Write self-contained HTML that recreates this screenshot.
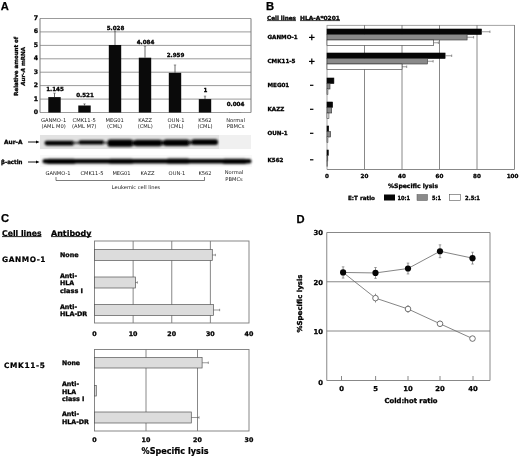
<!DOCTYPE html>
<html><head><meta charset="utf-8"><title>Figure</title>
<style>
html,body{margin:0;padding:0;background:#fff;}
body{width:520px;height:457px;overflow:hidden;}
svg{display:block;font-family:"DejaVu Sans","Liberation Sans",sans-serif;}
</style></head><body>
<svg width="520" height="457" viewBox="0 0 520 457">
<rect width="520" height="457" fill="#fff"/>
<text x="0.8" y="9.7" font-size="11.2" font-weight="bold" text-anchor="start" fill="#000" style='font-family:"Liberation Sans", sans-serif' stroke="#000" stroke-width="0.25">A</text>
<line x1="40" y1="112.5" x2="251" y2="112.5" stroke="#7a7a7a" stroke-width="0.75" />
<text x="36" y="114.0" font-size="6.2" font-weight="bold" text-anchor="middle" fill="#000" stroke="#000" stroke-width="0.3" >0</text>
<line x1="40" y1="99.1" x2="251" y2="99.1" stroke="#7a7a7a" stroke-width="0.75" />
<text x="36" y="100.6" font-size="6.2" font-weight="bold" text-anchor="middle" fill="#000" stroke="#000" stroke-width="0.3" >1</text>
<line x1="40" y1="85.6" x2="251" y2="85.6" stroke="#7a7a7a" stroke-width="0.75" />
<text x="36" y="87.1" font-size="6.2" font-weight="bold" text-anchor="middle" fill="#000" stroke="#000" stroke-width="0.3" >2</text>
<line x1="40" y1="72.2" x2="251" y2="72.2" stroke="#7a7a7a" stroke-width="0.75" />
<text x="36" y="73.7" font-size="6.2" font-weight="bold" text-anchor="middle" fill="#000" stroke="#000" stroke-width="0.3" >3</text>
<line x1="40" y1="58.8" x2="251" y2="58.8" stroke="#7a7a7a" stroke-width="0.75" />
<text x="36" y="60.3" font-size="6.2" font-weight="bold" text-anchor="middle" fill="#000" stroke="#000" stroke-width="0.3" >4</text>
<line x1="40" y1="45.4" x2="251" y2="45.4" stroke="#7a7a7a" stroke-width="0.75" />
<text x="36" y="46.9" font-size="6.2" font-weight="bold" text-anchor="middle" fill="#000" stroke="#000" stroke-width="0.3" >5</text>
<line x1="40" y1="31.9" x2="251" y2="31.9" stroke="#7a7a7a" stroke-width="0.75" />
<text x="36" y="33.4" font-size="6.2" font-weight="bold" text-anchor="middle" fill="#000" stroke="#000" stroke-width="0.3" >6</text>
<line x1="40" y1="18.5" x2="251" y2="18.5" stroke="#7a7a7a" stroke-width="0.75" />
<text x="36" y="20.0" font-size="6.2" font-weight="bold" text-anchor="middle" fill="#000" stroke="#000" stroke-width="0.3" >7</text>
<line x1="40" y1="18.5" x2="40" y2="112.5" stroke="#7a7a7a" stroke-width="1" />
<line x1="251" y1="18.5" x2="251" y2="112.5" stroke="#7a7a7a" stroke-width="1" />
<line x1="54.5" y1="97.12428571428572" x2="54.5" y2="93.0957142857143" stroke="#444" stroke-width="0.8" />
<line x1="53.3" y1="93.0957142857143" x2="55.7" y2="93.0957142857143" stroke="#555" stroke-width="0.6" />
<rect x="48.3" y="97.1" width="12.4" height="15.4" fill="#0a0a0a" stroke="none" stroke-width="1" />
<text x="55.0" y="90.6" font-size="5.6" font-weight="bold" text-anchor="middle" fill="#000" stroke="#000" stroke-width="0.3" >1.145</text>
<line x1="84.5" y1="105.50371428571428" x2="84.5" y2="103.8922857142857" stroke="#444" stroke-width="0.8" />
<line x1="83.3" y1="103.8922857142857" x2="85.7" y2="103.8922857142857" stroke="#555" stroke-width="0.6" />
<rect x="78.3" y="105.5" width="12.4" height="7.0" fill="#0a0a0a" stroke="none" stroke-width="1" />
<text x="85.0" y="97.4" font-size="5.6" font-weight="bold" text-anchor="middle" fill="#000" stroke="#000" stroke-width="0.3" >0.521</text>
<line x1="115" y1="44.981142857142856" x2="115" y2="30.881142857142855" stroke="#444" stroke-width="0.8" />
<line x1="113.8" y1="30.881142857142855" x2="116.2" y2="30.881142857142855" stroke="#555" stroke-width="0.6" />
<rect x="108.8" y="45.0" width="12.4" height="67.5" fill="#0a0a0a" stroke="none" stroke-width="1" />
<text x="115.5" y="29.6" font-size="5.6" font-weight="bold" text-anchor="middle" fill="#000" stroke="#000" stroke-width="0.3" >5.028</text>
<line x1="145" y1="57.65771428571429" x2="145" y2="46.24342857142858" stroke="#444" stroke-width="0.8" />
<line x1="143.8" y1="46.24342857142858" x2="146.2" y2="46.24342857142858" stroke="#555" stroke-width="0.6" />
<rect x="138.8" y="57.7" width="12.4" height="54.8" fill="#0a0a0a" stroke="none" stroke-width="1" />
<text x="145.5" y="44.1" font-size="5.6" font-weight="bold" text-anchor="middle" fill="#000" stroke="#000" stroke-width="0.3" >4.084</text>
<line x1="175" y1="72.76485714285714" x2="175" y2="64.97628571428571" stroke="#444" stroke-width="0.8" />
<line x1="173.8" y1="64.97628571428571" x2="176.2" y2="64.97628571428571" stroke="#555" stroke-width="0.6" />
<rect x="168.8" y="72.8" width="12.4" height="39.7" fill="#0a0a0a" stroke="none" stroke-width="1" />
<text x="175.5" y="56.6" font-size="5.6" font-weight="bold" text-anchor="middle" fill="#000" stroke="#000" stroke-width="0.3" >2.959</text>
<line x1="205" y1="99.07142857142857" x2="205" y2="96.11714285714285" stroke="#444" stroke-width="0.8" />
<line x1="203.8" y1="96.11714285714285" x2="206.2" y2="96.11714285714285" stroke="#555" stroke-width="0.6" />
<rect x="198.8" y="99.1" width="12.4" height="13.4" fill="#0a0a0a" stroke="none" stroke-width="1" />
<text x="205.5" y="92.1" font-size="5.6" font-weight="bold" text-anchor="middle" fill="#000" stroke="#000" stroke-width="0.3" >1</text>
<rect x="228.8" y="112.4" width="12.4" height="0.1" fill="#0a0a0a" stroke="none" stroke-width="1" />
<text x="235.5" y="106.1" font-size="5.6" font-weight="bold" text-anchor="middle" fill="#000" stroke="#000" stroke-width="0.3" >0.004</text>
<g transform="translate(18.1,66.3) rotate(-90)">
<text x="0" y="0" font-size="5.6" font-weight="bold" text-anchor="middle" fill="#000" stroke="#000" stroke-width="0.3" textLength="59" lengthAdjust="spacingAndGlyphs" >Relative amount of</text>
<text x="0" y="7.0" font-size="5.6" font-weight="bold" stroke="#000" stroke-width="0.22" text-anchor="middle"><tspan font-style="italic">Aur-A</tspan> mRNA</text>
</g>
<text x="53.6" y="121.7" font-size="5.2" font-weight="normal" text-anchor="middle" fill="#1a1a1a" >GANMO-1</text>
<text x="53.6" y="127.6" font-size="5.2" font-weight="normal" text-anchor="middle" fill="#1a1a1a" >(AML M0)</text>
<text x="84.2" y="121.7" font-size="5.2" font-weight="normal" text-anchor="middle" fill="#1a1a1a" >CMK11-5</text>
<text x="84.2" y="127.6" font-size="5.2" font-weight="normal" text-anchor="middle" fill="#1a1a1a" >(AML M7)</text>
<text x="114.6" y="121.7" font-size="5.2" font-weight="normal" text-anchor="middle" fill="#1a1a1a" >MEG01</text>
<text x="114.6" y="127.6" font-size="5.2" font-weight="normal" text-anchor="middle" fill="#1a1a1a" >(CML)</text>
<text x="145.2" y="121.7" font-size="5.2" font-weight="normal" text-anchor="middle" fill="#1a1a1a" >KAZZ</text>
<text x="145.2" y="127.6" font-size="5.2" font-weight="normal" text-anchor="middle" fill="#1a1a1a" >(CML)</text>
<text x="176" y="121.7" font-size="5.2" font-weight="normal" text-anchor="middle" fill="#1a1a1a" >OUN-1</text>
<text x="176" y="127.6" font-size="5.2" font-weight="normal" text-anchor="middle" fill="#1a1a1a" >(CML)</text>
<text x="205" y="121.7" font-size="5.2" font-weight="normal" text-anchor="middle" fill="#1a1a1a" >K562</text>
<text x="205" y="127.6" font-size="5.2" font-weight="normal" text-anchor="middle" fill="#1a1a1a" >(CML)</text>
<text x="235.6" y="121.7" font-size="5.2" font-weight="normal" text-anchor="middle" fill="#1a1a1a" >Normal</text>
<text x="235.6" y="127.6" font-size="5.2" font-weight="normal" text-anchor="middle" fill="#1a1a1a" >PBMCs</text>
<defs>
<filter id="bl" x="-10%" y="-50%" width="120%" height="200%"><feGaussianBlur stdDeviation="1.1 0.95"/></filter>
<filter id="bl2" x="-10%" y="-50%" width="120%" height="200%"><feGaussianBlur stdDeviation="1.0 0.8"/></filter>
</defs>
<rect x="40" y="135" width="211" height="14" fill="#e2e2e2" stroke="none" stroke-width="1" />
<rect x="219" y="135" width="32" height="14" fill="#f0f0f0" stroke="none" stroke-width="1" />
<g filter="url(#bl)">
<rect x="44.5" y="140.79999999999998" width="30.0" height="4.6" rx="2.3" fill="#000"/>
<rect x="73" y="141.8" width="7" height="2.2" rx="1.1" fill="#444"/>
<rect x="78.5" y="140.3" width="26.0" height="4.2" rx="2.1" fill="#000"/>
<rect x="103" y="141.8" width="6" height="2" rx="1.0" fill="#444"/>
<rect x="107.5" y="139.4" width="25.5" height="7.4" rx="2.5" fill="#000"/>
<rect x="131" y="140.6" width="5" height="5" rx="2.5" fill="#111"/>
<rect x="134" y="139.7" width="28" height="6.6" rx="2.5" fill="#000"/>
<rect x="160" y="140.6" width="5" height="4.6" rx="2.3" fill="#111"/>
<rect x="163.5" y="139.5" width="26.0" height="6.4" rx="2.5" fill="#000"/>
<rect x="188" y="140.4" width="5" height="4" rx="2.0" fill="#222"/>
<rect x="191.5" y="139.29999999999998" width="26.5" height="5.8" rx="2.5" fill="#000"/>
</g>
<rect x="40" y="155" width="212" height="12" fill="#f9f9f9" stroke="none" stroke-width="1" />
<g filter="url(#bl2)">
<rect x="42.5" y="158.89999999999998" width="209.0" height="4.6" rx="2.3" fill="#000"/>
<rect x="46" y="158.8" width="30" height="5.2" rx="2.5" fill="#000"/>
<rect x="108" y="158.75" width="26" height="5.1" rx="2.5" fill="#000"/>
<rect x="166" y="158.54999999999998" width="24" height="5.1" rx="2.5" fill="#000"/>
<rect x="222" y="158.75" width="25" height="5.3" rx="2.5" fill="#000"/>
</g>
<text x="4" y="144.1" font-size="5.8" font-weight="bold" text-anchor="start" fill="#000" stroke="#000" stroke-width="0.3" textLength="18.5" lengthAdjust="spacingAndGlyphs" >Aur-A</text>
<text x="1" y="164.1" font-size="5.8" font-weight="bold" text-anchor="start" fill="#000" stroke="#000" stroke-width="0.3" textLength="21.5" lengthAdjust="spacingAndGlyphs" >β-actin</text>
<line x1="28" y1="142" x2="37" y2="142" stroke="#000" stroke-width="0.9" />
<polygon points="39.5,142 36,140.4 36,143.6" fill="#000"/>
<line x1="28" y1="162" x2="37" y2="162" stroke="#000" stroke-width="0.9" />
<polygon points="39.5,162 36,160.4 36,163.6" fill="#000"/>
<text x="58" y="174.8" font-size="5.15" font-weight="normal" text-anchor="middle" fill="#1a1a1a" >GANMO-1</text>
<text x="92" y="174.8" font-size="5.15" font-weight="normal" text-anchor="middle" fill="#1a1a1a" >CMK11-5</text>
<text x="121.5" y="174.8" font-size="5.15" font-weight="normal" text-anchor="middle" fill="#1a1a1a" >MEG01</text>
<text x="147.5" y="174.8" font-size="5.15" font-weight="normal" text-anchor="middle" fill="#1a1a1a" >KAZZ</text>
<text x="177" y="174.8" font-size="5.15" font-weight="normal" text-anchor="middle" fill="#1a1a1a" >OUN-1</text>
<text x="205" y="174.8" font-size="5.15" font-weight="normal" text-anchor="middle" fill="#1a1a1a" >K562</text>
<text x="234" y="173.8" font-size="5.15" font-weight="normal" text-anchor="middle" fill="#1a1a1a" >Normal</text>
<text x="234" y="180.6" font-size="5.15" font-weight="normal" text-anchor="middle" fill="#1a1a1a" >PBMCs</text>
<polyline points="56,177 56,180.5 204.5,180.5 204.5,177" fill="none" stroke="#444" stroke-width="0.7"/>
<text x="136" y="188.8" font-size="5.15" font-weight="normal" text-anchor="middle" fill="#1a1a1a" >Leukemic cell lines</text>
<text x="266" y="9.5" font-size="11.2" font-weight="bold" text-anchor="start" fill="#000" style='font-family:"Liberation Sans", sans-serif' stroke="#000" stroke-width="0.25">B</text>
<text x="267" y="20" font-size="5.6" font-weight="bold" text-anchor="start" fill="#000" stroke="#000" stroke-width="0.3" textLength="29" lengthAdjust="spacingAndGlyphs" >Cell lines</text>
<line x1="267" y1="20.6" x2="296" y2="20.6" stroke="#111" stroke-width="0.8" />
<text x="300" y="20" font-size="5.6" font-weight="bold" text-anchor="start" fill="#000" stroke="#000" stroke-width="0.3" textLength="40" lengthAdjust="spacingAndGlyphs" >HLA-A*0201</text>
<line x1="300" y1="20.6" x2="340" y2="20.6" stroke="#111" stroke-width="0.8" />
<line x1="327" y1="25.4" x2="514.5" y2="25.4" stroke="#8c8c8c" stroke-width="0.8" />
<line x1="514.5" y1="25" x2="514.5" y2="169.5" stroke="#7a7a7a" stroke-width="0.9" />
<line x1="327" y1="169.5" x2="514.5" y2="169.5" stroke="#7a7a7a" stroke-width="0.9" />
<line x1="327" y1="25" x2="327" y2="169.5" stroke="#9a9a9a" stroke-width="0.9" />
<line x1="364.5" y1="25" x2="364.5" y2="169.5" stroke="#7a7a7a" stroke-width="0.9" />
<line x1="402.0" y1="25" x2="402.0" y2="169.5" stroke="#7a7a7a" stroke-width="0.9" />
<line x1="439.5" y1="25" x2="439.5" y2="169.5" stroke="#7a7a7a" stroke-width="0.9" />
<line x1="477.0" y1="25" x2="477.0" y2="169.5" stroke="#7a7a7a" stroke-width="0.9" />
<text x="327.0" y="177.6" font-size="5.6" font-weight="bold" text-anchor="middle" fill="#000" stroke="#000" stroke-width="0.3" >0</text>
<text x="364.5" y="177.6" font-size="5.6" font-weight="bold" text-anchor="middle" fill="#000" stroke="#000" stroke-width="0.3" >20</text>
<text x="402.0" y="177.6" font-size="5.6" font-weight="bold" text-anchor="middle" fill="#000" stroke="#000" stroke-width="0.3" >40</text>
<text x="439.5" y="177.6" font-size="5.6" font-weight="bold" text-anchor="middle" fill="#000" stroke="#000" stroke-width="0.3" >60</text>
<text x="477.0" y="177.6" font-size="5.6" font-weight="bold" text-anchor="middle" fill="#000" stroke="#000" stroke-width="0.3" >80</text>
<text x="512.5" y="177.6" font-size="5.6" font-weight="bold" text-anchor="middle" fill="#000" stroke="#000" stroke-width="0.3" >100</text>
<text x="267.5" y="39.1" font-size="5.6" font-weight="bold" text-anchor="start" fill="#000" stroke="#000" stroke-width="0.3" >GANMO-1</text>
<line x1="309" y1="37.4" x2="314.6" y2="37.4" stroke="#000" stroke-width="1.2" />
<line x1="311.8" y1="34.6" x2="311.8" y2="40.2" stroke="#000" stroke-width="1.2" />
<text x="311" y="39.5" font-size="8" font-weight="bold" text-anchor="middle" fill="none" >+</text>
<rect x="327" y="29.0" width="154.5" height="5.5" fill="#060606" stroke="#060606" stroke-width="0.6" />
<line x1="481.5" y1="31.75" x2="489.9375" y2="31.75" stroke="#555" stroke-width="0.6" />
<line x1="489.9375" y1="30.5" x2="489.9375" y2="33.0" stroke="#555" stroke-width="0.6" />
<rect x="327" y="34.5" width="140.1" height="5.5" fill="#8a8a8a" stroke="#333" stroke-width="0.6" />
<line x1="467.0625" y1="37.25" x2="473.625" y2="37.25" stroke="#555" stroke-width="0.6" />
<line x1="473.625" y1="36.0" x2="473.625" y2="38.5" stroke="#555" stroke-width="0.6" />
<rect x="327" y="40.0" width="106.7" height="5.5" fill="#ffffff" stroke="#333" stroke-width="0.6" />
<line x1="433.6875" y1="42.75" x2="438.375" y2="42.75" stroke="#555" stroke-width="0.6" />
<line x1="438.375" y1="41.5" x2="438.375" y2="44.0" stroke="#555" stroke-width="0.6" />
<text x="267.5" y="63.1" font-size="5.6" font-weight="bold" text-anchor="start" fill="#000" stroke="#000" stroke-width="0.3" >CMK11-5</text>
<line x1="309" y1="61.4" x2="314.6" y2="61.4" stroke="#000" stroke-width="1.2" />
<line x1="311.8" y1="58.6" x2="311.8" y2="64.2" stroke="#000" stroke-width="1.2" />
<text x="311" y="63.5" font-size="8" font-weight="bold" text-anchor="middle" fill="none" >+</text>
<rect x="327" y="53.0" width="118.1" height="5.5" fill="#060606" stroke="#060606" stroke-width="0.6" />
<line x1="445.125" y1="55.75" x2="451.6875" y2="55.75" stroke="#555" stroke-width="0.6" />
<line x1="451.6875" y1="54.5" x2="451.6875" y2="57.0" stroke="#555" stroke-width="0.6" />
<rect x="327" y="58.5" width="100.5" height="5.5" fill="#8a8a8a" stroke="#333" stroke-width="0.6" />
<line x1="427.5" y1="61.25" x2="433.125" y2="61.25" stroke="#555" stroke-width="0.6" />
<line x1="433.125" y1="60.0" x2="433.125" y2="62.5" stroke="#555" stroke-width="0.6" />
<rect x="327" y="64.0" width="75.0" height="5.5" fill="#ffffff" stroke="#333" stroke-width="0.6" />
<line x1="402.0" y1="66.75" x2="406.6875" y2="66.75" stroke="#555" stroke-width="0.6" />
<line x1="406.6875" y1="65.5" x2="406.6875" y2="68.0" stroke="#555" stroke-width="0.6" />
<text x="267.5" y="87.1" font-size="5.6" font-weight="bold" text-anchor="start" fill="#000" stroke="#000" stroke-width="0.3" >MEG01</text>
<line x1="310" y1="85.3" x2="313.4" y2="85.3" stroke="#000" stroke-width="1.2" />
<text x="311" y="87.5" font-size="8" font-weight="bold" text-anchor="middle" fill="none" >-</text>
<rect x="327" y="78.0" width="6.9" height="5.5" fill="#060606" stroke="#060606" stroke-width="0.6" />
<rect x="327" y="83.5" width="3.0" height="5.5" fill="#8a8a8a" stroke="#333" stroke-width="0.6" />
<rect x="327" y="89.0" width="0.9" height="5.5" fill="#ffffff" stroke="#333" stroke-width="0.6" />
<text x="267.5" y="111.1" font-size="5.6" font-weight="bold" text-anchor="start" fill="#000" stroke="#000" stroke-width="0.3" >KAZZ</text>
<line x1="310" y1="109.3" x2="313.4" y2="109.3" stroke="#000" stroke-width="1.2" />
<text x="311" y="111.5" font-size="8" font-weight="bold" text-anchor="middle" fill="none" >-</text>
<rect x="327" y="102.0" width="5.6" height="5.5" fill="#060606" stroke="#060606" stroke-width="0.6" />
<rect x="327" y="107.5" width="4.7" height="5.5" fill="#8a8a8a" stroke="#333" stroke-width="0.6" />
<rect x="327" y="113.0" width="1.9" height="5.5" fill="#ffffff" stroke="#333" stroke-width="0.6" />
<text x="267.5" y="135.1" font-size="5.6" font-weight="bold" text-anchor="start" fill="#000" stroke="#000" stroke-width="0.3" >OUN-1</text>
<line x1="310" y1="133.3" x2="313.4" y2="133.3" stroke="#000" stroke-width="1.2" />
<text x="311" y="135.5" font-size="8" font-weight="bold" text-anchor="middle" fill="none" >-</text>
<rect x="327" y="126.0" width="1.7" height="5.5" fill="#060606" stroke="#060606" stroke-width="0.6" />
<rect x="327" y="131.5" width="3.6" height="5.5" fill="#8a8a8a" stroke="#333" stroke-width="0.6" />
<rect x="327" y="137.0" width="0.9" height="5.5" fill="#ffffff" stroke="#333" stroke-width="0.6" />
<text x="267.5" y="161.6" font-size="5.6" font-weight="bold" text-anchor="start" fill="#000" stroke="#000" stroke-width="0.3" >K562</text>
<line x1="310" y1="159.8" x2="313.4" y2="159.8" stroke="#000" stroke-width="1.2" />
<text x="311" y="162.0" font-size="8" font-weight="bold" text-anchor="middle" fill="none" >-</text>
<rect x="327" y="150.0" width="1.3" height="5.5" fill="#060606" stroke="#060606" stroke-width="0.6" />
<rect x="327" y="155.5" width="0.8" height="5.5" fill="#8a8a8a" stroke="#333" stroke-width="0.6" />
<rect x="327" y="161.0" width="0.6" height="5.5" fill="#ffffff" stroke="#333" stroke-width="0.6" />
<text x="413" y="187.6" font-size="6" font-weight="bold" text-anchor="middle" fill="#000" stroke="#000" stroke-width="0.3" textLength="50" lengthAdjust="spacingAndGlyphs" >%Specific lysis</text>
<text x="348" y="199.5" font-size="5.7" font-weight="bold" text-anchor="start" fill="#000" stroke="#000" stroke-width="0.3" textLength="27" lengthAdjust="spacingAndGlyphs" >E:T ratio</text>
<rect x="384" y="194.5" width="11" height="6" fill="#060606" stroke="none" stroke-width="1" />
<text x="397.5" y="199.5" font-size="5.7" font-weight="bold" text-anchor="start" fill="#000" stroke="#000" stroke-width="0.3" textLength="12.5" lengthAdjust="spacingAndGlyphs" >10:1</text>
<rect x="417" y="194.5" width="10.5" height="6" fill="#8a8a8a" stroke="#555" stroke-width="0.5" />
<text x="432" y="199.5" font-size="5.7" font-weight="bold" text-anchor="start" fill="#000" stroke="#000" stroke-width="0.3" textLength="9" lengthAdjust="spacingAndGlyphs" >5:1</text>
<rect x="449.5" y="194.5" width="11" height="6" fill="#fff" stroke="#555" stroke-width="0.6" />
<text x="465" y="199.5" font-size="5.7" font-weight="bold" text-anchor="start" fill="#000" stroke="#000" stroke-width="0.3" textLength="15" lengthAdjust="spacingAndGlyphs" >2.5:1</text>
<text x="1" y="222.2" font-size="11.2" font-weight="bold" text-anchor="start" fill="#000" style='font-family:"Liberation Sans", sans-serif' stroke="#000" stroke-width="0.25">C</text>
<text x="2" y="235.6" font-size="7.9" font-weight="bold" text-anchor="start" fill="#000" stroke="#000" stroke-width="0.22" textLength="39.5" lengthAdjust="spacingAndGlyphs" >Cell lines</text>
<line x1="2" y1="236.6" x2="41.5" y2="236.6" stroke="#111" stroke-width="0.9" />
<text x="51" y="235.6" font-size="7.9" font-weight="bold" text-anchor="start" fill="#000" stroke="#000" stroke-width="0.22" textLength="40.5" lengthAdjust="spacingAndGlyphs" >Antibody</text>
<line x1="51" y1="236.6" x2="91.5" y2="236.6" stroke="#111" stroke-width="0.9" />
<rect x="94.5" y="241" width="154.5" height="82" fill="none" stroke="#7a7a7a" stroke-width="0.9" />
<line x1="133.125" y1="241" x2="133.125" y2="323" stroke="#7a7a7a" stroke-width="0.9" />
<line x1="171.75" y1="241" x2="171.75" y2="323" stroke="#7a7a7a" stroke-width="0.9" />
<line x1="210.375" y1="241" x2="210.375" y2="323" stroke="#7a7a7a" stroke-width="0.9" />
<text x="94.5" y="335.8" font-size="6.3" font-weight="bold" text-anchor="middle" fill="#000" stroke="#000" stroke-width="0.3" >0</text>
<text x="133.125" y="335.8" font-size="6.3" font-weight="bold" text-anchor="middle" fill="#000" stroke="#000" stroke-width="0.3" >10</text>
<text x="171.75" y="335.8" font-size="6.3" font-weight="bold" text-anchor="middle" fill="#000" stroke="#000" stroke-width="0.3" >20</text>
<text x="210.375" y="335.8" font-size="6.3" font-weight="bold" text-anchor="middle" fill="#000" stroke="#000" stroke-width="0.3" >30</text>
<text x="249.0" y="335.8" font-size="6.3" font-weight="bold" text-anchor="middle" fill="#000" stroke="#000" stroke-width="0.3" >40</text>
<rect x="94.5" y="249.5" width="117.8" height="11" fill="#dcdcdc" stroke="#555" stroke-width="0.7" />
<line x1="212.30624999999998" y1="255.0" x2="215.39624999999998" y2="255.0" stroke="#555" stroke-width="0.6" />
<line x1="215.39624999999998" y1="253.8" x2="215.39624999999998" y2="256.2" stroke="#555" stroke-width="0.6" />
<rect x="94.5" y="277" width="40.9" height="11" fill="#dcdcdc" stroke="#555" stroke-width="0.7" />
<line x1="135.4425" y1="282.5" x2="137.37375" y2="282.5" stroke="#555" stroke-width="0.6" />
<line x1="137.37375" y1="281.3" x2="137.37375" y2="283.7" stroke="#555" stroke-width="0.6" />
<rect x="94.5" y="304.5" width="119.0" height="11" fill="#dcdcdc" stroke="#555" stroke-width="0.7" />
<line x1="213.465" y1="310.0" x2="219.645" y2="310.0" stroke="#555" stroke-width="0.6" />
<line x1="219.645" y1="308.8" x2="219.645" y2="311.2" stroke="#555" stroke-width="0.6" />
<rect x="94.5" y="349.5" width="154.5" height="81.5" fill="none" stroke="#7a7a7a" stroke-width="0.9" />
<line x1="146.0" y1="349.5" x2="146.0" y2="431" stroke="#7a7a7a" stroke-width="0.9" />
<line x1="197.5" y1="349.5" x2="197.5" y2="431" stroke="#7a7a7a" stroke-width="0.9" />
<text x="94.5" y="442.3" font-size="6.3" font-weight="bold" text-anchor="middle" fill="#000" stroke="#000" stroke-width="0.3" >0</text>
<text x="146.0" y="442.3" font-size="6.3" font-weight="bold" text-anchor="middle" fill="#000" stroke="#000" stroke-width="0.3" >10</text>
<text x="197.5" y="442.3" font-size="6.3" font-weight="bold" text-anchor="middle" fill="#000" stroke="#000" stroke-width="0.3" >20</text>
<text x="249.0" y="442.3" font-size="6.3" font-weight="bold" text-anchor="middle" fill="#000" stroke="#000" stroke-width="0.3" >30</text>
<rect x="94.5" y="357.5" width="107.6" height="10.5" fill="#dcdcdc" stroke="#555" stroke-width="0.7" />
<line x1="202.135" y1="362.75" x2="208.315" y2="362.75" stroke="#555" stroke-width="0.6" />
<line x1="208.315" y1="361.55" x2="208.315" y2="363.95" stroke="#555" stroke-width="0.6" />
<rect x="94.5" y="385.5" width="1.8" height="10.5" fill="#dcdcdc" stroke="#555" stroke-width="0.7" />
<rect x="94.5" y="412" width="96.8" height="11" fill="#dcdcdc" stroke="#555" stroke-width="0.7" />
<line x1="191.32" y1="417.5" x2="199.045" y2="417.5" stroke="#555" stroke-width="0.6" />
<line x1="199.045" y1="416.3" x2="199.045" y2="418.7" stroke="#555" stroke-width="0.6" />
<text x="2" y="261.8" font-size="7.4" font-weight="bold" text-anchor="start" fill="#000" stroke="#000" stroke-width="0.22" textLength="43.5" lengthAdjust="spacing">GANMO-1</text>
<text x="4" y="368.3" font-size="7.4" font-weight="bold" text-anchor="start" fill="#000" stroke="#000" stroke-width="0.22" textLength="41" lengthAdjust="spacing">CMK11-5</text>
<text x="60" y="257.3" font-size="6.3" font-weight="bold" text-anchor="start" fill="#000" stroke="#000" stroke-width="0.3" textLength="18.5" lengthAdjust="spacingAndGlyphs" >None</text>
<text x="60" y="277.9" font-size="6.3" font-weight="bold" text-anchor="start" fill="#000" stroke="#000" stroke-width="0.3" >Anti-</text>
<text x="60" y="285.3" font-size="6.3" font-weight="bold" text-anchor="start" fill="#000" stroke="#000" stroke-width="0.3" >HLA</text>
<text x="60" y="292.9" font-size="6.3" font-weight="bold" text-anchor="start" fill="#000" stroke="#000" stroke-width="0.3" textLength="23" lengthAdjust="spacingAndGlyphs" >class I</text>
<text x="60" y="308.7" font-size="6.3" font-weight="bold" text-anchor="start" fill="#000" stroke="#000" stroke-width="0.3" >Anti-</text>
<text x="60" y="316.1" font-size="6.3" font-weight="bold" text-anchor="start" fill="#000" stroke="#000" stroke-width="0.3" textLength="27.3" lengthAdjust="spacingAndGlyphs" >HLA-DR</text>
<text x="62" y="365.4" font-size="6.3" font-weight="bold" text-anchor="start" fill="#000" stroke="#000" stroke-width="0.3" textLength="18" lengthAdjust="spacingAndGlyphs" >None</text>
<text x="62" y="386" font-size="6.3" font-weight="bold" text-anchor="start" fill="#000" stroke="#000" stroke-width="0.3" >Anti-</text>
<text x="62" y="393.5" font-size="6.3" font-weight="bold" text-anchor="start" fill="#000" stroke="#000" stroke-width="0.3" >HLA</text>
<text x="62" y="401" font-size="6.3" font-weight="bold" text-anchor="start" fill="#000" stroke="#000" stroke-width="0.3" textLength="22.5" lengthAdjust="spacingAndGlyphs" >class I</text>
<text x="62" y="416" font-size="6.3" font-weight="bold" text-anchor="start" fill="#000" stroke="#000" stroke-width="0.3" >Anti-</text>
<text x="62" y="423.6" font-size="6.3" font-weight="bold" text-anchor="start" fill="#000" stroke="#000" stroke-width="0.3" textLength="27" lengthAdjust="spacingAndGlyphs" >HLA-DR</text>
<text x="175" y="454" font-size="8.3" font-weight="bold" text-anchor="middle" fill="#000" stroke="#000" stroke-width="0.22" textLength="67" lengthAdjust="spacingAndGlyphs" >%Specific lysis</text>
<text x="296.5" y="222.5" font-size="11.2" font-weight="bold" text-anchor="start" fill="#000" style='font-family:"Liberation Sans", sans-serif' stroke="#000" stroke-width="0.25">D</text>
<line x1="326.75" y1="232.5" x2="490" y2="232.5" stroke="#7a7a7a" stroke-width="0.9" />
<line x1="326.75" y1="232.5" x2="326.75" y2="380.5" stroke="#7a7a7a" stroke-width="0.9" />
<line x1="490" y1="232.5" x2="490" y2="380.5" stroke="#7a7a7a" stroke-width="0.9" />
<line x1="326.75" y1="380.5" x2="490" y2="380.5" stroke="#7a7a7a" stroke-width="0.9" />
<line x1="326.75" y1="281.75" x2="490" y2="281.75" stroke="#7a7a7a" stroke-width="0.9" />
<line x1="326.75" y1="331" x2="490" y2="331" stroke="#7a7a7a" stroke-width="0.9" />
<text x="323" y="235.4" font-size="6.8" font-weight="bold" text-anchor="end" fill="#000" stroke="#000" stroke-width="0.3" >30</text>
<text x="323" y="284.9" font-size="6.8" font-weight="bold" text-anchor="end" fill="#000" stroke="#000" stroke-width="0.3" >20</text>
<text x="323" y="333.9" font-size="6.8" font-weight="bold" text-anchor="end" fill="#000" stroke="#000" stroke-width="0.3" >10</text>
<text x="323" y="385.0" font-size="6.8" font-weight="bold" text-anchor="end" fill="#000" stroke="#000" stroke-width="0.3" >0</text>
<line x1="341.5" y1="376" x2="341.5" y2="380.5" stroke="#7a7a7a" stroke-width="0.9" />
<text x="341.5" y="391.2" font-size="6.8" font-weight="bold" text-anchor="middle" fill="#000" stroke="#000" stroke-width="0.3" >0</text>
<line x1="375.6" y1="376" x2="375.6" y2="380.5" stroke="#7a7a7a" stroke-width="0.9" />
<text x="375.6" y="391.2" font-size="6.8" font-weight="bold" text-anchor="middle" fill="#000" stroke="#000" stroke-width="0.3" >5</text>
<line x1="408" y1="376" x2="408" y2="380.5" stroke="#7a7a7a" stroke-width="0.9" />
<text x="408" y="391.2" font-size="6.8" font-weight="bold" text-anchor="middle" fill="#000" stroke="#000" stroke-width="0.3" >10</text>
<line x1="440" y1="376" x2="440" y2="380.5" stroke="#7a7a7a" stroke-width="0.9" />
<text x="440" y="391.2" font-size="6.8" font-weight="bold" text-anchor="middle" fill="#000" stroke="#000" stroke-width="0.3" >20</text>
<line x1="473" y1="376" x2="473" y2="380.5" stroke="#7a7a7a" stroke-width="0.9" />
<text x="473" y="391.2" font-size="6.8" font-weight="bold" text-anchor="middle" fill="#000" stroke="#000" stroke-width="0.3" >40</text>
<text x="411" y="403" font-size="6.8" font-weight="bold" text-anchor="middle" fill="#000" stroke="#000" stroke-width="0.3" textLength="53" lengthAdjust="spacingAndGlyphs" >Cold:hot ratio</text>
<g transform="translate(302.4,303.5) rotate(-90)">
<text x="0" y="0" font-size="6.8" font-weight="bold" text-anchor="middle" fill="#000" stroke="#000" stroke-width="0.3" textLength="58" lengthAdjust="spacingAndGlyphs" >%Specific lysis</text>
</g>
<polyline fill="none" stroke="#666" stroke-width="0.8" points="343.1,272.46 375.5,272.95 408,268.51 440,251.25 472.5,258.15"/>
<polyline fill="none" stroke="#666" stroke-width="0.8" points="343.1,272.46 375.5,298.11 408,308.97 440,323.77 472.5,338.57"/>
<line x1="343.1" y1="266.84" x2="343.1" y2="278.08" stroke="#666" stroke-width="0.7" />
<line x1="341.8" y1="266.84" x2="344.40000000000003" y2="266.84" stroke="#666" stroke-width="0.6" />
<line x1="341.8" y1="278.08" x2="344.40000000000003" y2="278.08" stroke="#666" stroke-width="0.6" />
<line x1="375.5" y1="267.53" x2="375.5" y2="278.38" stroke="#666" stroke-width="0.7" />
<line x1="374.2" y1="267.53" x2="376.8" y2="267.53" stroke="#666" stroke-width="0.6" />
<line x1="374.2" y1="278.38" x2="376.8" y2="278.38" stroke="#666" stroke-width="0.6" />
<line x1="408" y1="263.09" x2="408" y2="273.94" stroke="#666" stroke-width="0.7" />
<line x1="406.7" y1="263.09" x2="409.3" y2="263.09" stroke="#666" stroke-width="0.6" />
<line x1="406.7" y1="273.94" x2="409.3" y2="273.94" stroke="#666" stroke-width="0.6" />
<line x1="440" y1="244.83" x2="440" y2="257.66" stroke="#666" stroke-width="0.7" />
<line x1="438.7" y1="244.83" x2="441.3" y2="244.83" stroke="#666" stroke-width="0.6" />
<line x1="438.7" y1="257.66" x2="441.3" y2="257.66" stroke="#666" stroke-width="0.6" />
<line x1="472.5" y1="252.23" x2="472.5" y2="264.07" stroke="#666" stroke-width="0.7" />
<line x1="471.2" y1="252.23" x2="473.8" y2="252.23" stroke="#666" stroke-width="0.6" />
<line x1="471.2" y1="264.07" x2="473.8" y2="264.07" stroke="#666" stroke-width="0.6" />
<line x1="375.5" y1="293.67" x2="375.5" y2="302.55" stroke="#666" stroke-width="0.7" />
<circle cx="375.5" cy="298.11" r="2.8" fill="#fff" stroke="#444" stroke-width="0.75"/>
<line x1="408" y1="305.02" x2="408" y2="312.91" stroke="#666" stroke-width="0.7" />
<circle cx="408" cy="308.97" r="2.8" fill="#fff" stroke="#444" stroke-width="0.75"/>
<line x1="440" y1="320.81" x2="440" y2="326.73" stroke="#666" stroke-width="0.7" />
<circle cx="440" cy="323.77" r="2.8" fill="#fff" stroke="#444" stroke-width="0.75"/>
<circle cx="472.5" cy="338.57" r="2.8" fill="#fff" stroke="#444" stroke-width="0.75"/>
<circle cx="343.1" cy="272.46" r="3.1" fill="#060606"/>
<circle cx="375.5" cy="272.95" r="3.1" fill="#060606"/>
<circle cx="408" cy="268.51" r="3.1" fill="#060606"/>
<circle cx="440" cy="251.25" r="3.1" fill="#060606"/>
<circle cx="472.5" cy="258.15" r="3.1" fill="#060606"/>
</svg>
</body></html>
